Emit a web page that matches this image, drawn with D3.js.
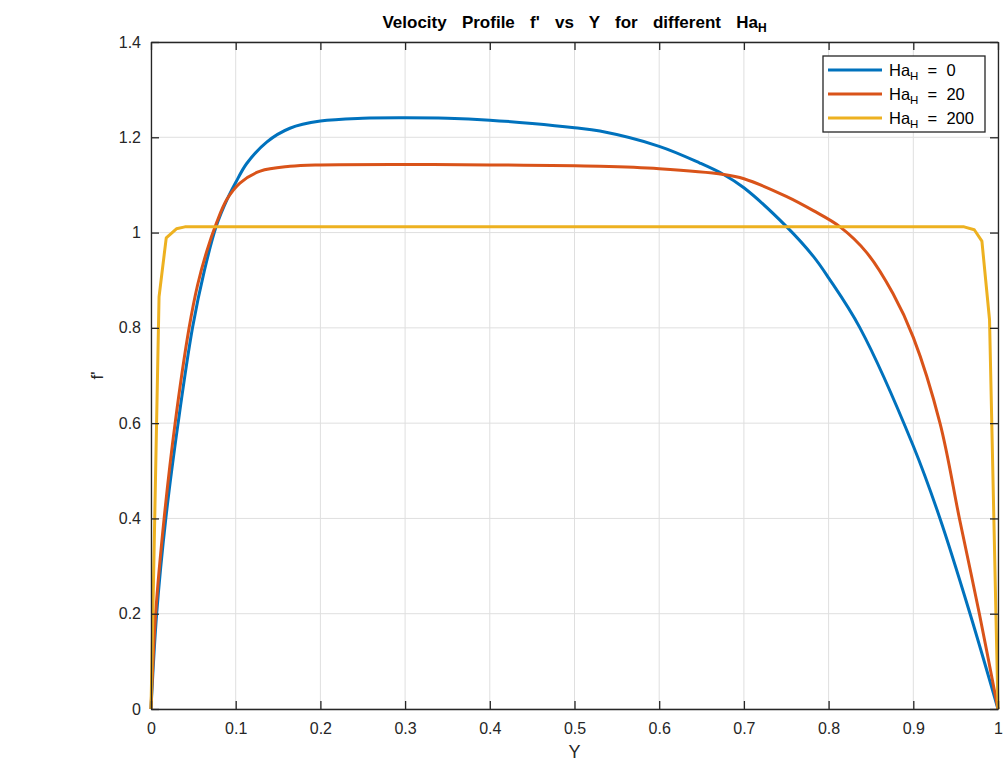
<!DOCTYPE html>
<html>
<head>
<meta charset="utf-8">
<script src="https://cdn.jsdelivr.net/npm/d3@7"></script>
<style>
  body { margin: 0; background: #fff; }
  text { font-family: "Liberation Sans", Arial, Helvetica, sans-serif; }
</style>
</head>
<body>
<div id="chart"></div>
<script>
// values
var ha0X = [0, 0.0067, 0.0175, 0.032, 0.049, 0.063, 0.077, 0.09, 0.1, 0.113, 0.1366, 0.164, 0.2, 0.25, 0.3, 0.35, 0.4, 0.45, 0.5, 0.53, 0.6, 0.648, 0.676, 0.7, 0.75, 0.782, 0.8, 0.837, 0.9, 0.9315, 0.967, 1];
var ha0Y = [0, 0.2, 0.4, 0.6, 0.8, 0.92, 1.013, 1.07, 1.105, 1.145, 1.19, 1.219, 1.234, 1.24, 1.241, 1.24, 1.236, 1.229, 1.22, 1.213, 1.181, 1.146, 1.122, 1.094, 1.013, 0.95, 0.905, 0.8, 0.552, 0.4, 0.2, 0];

var ha20X = [0, 0.0055, 0.0155, 0.0285, 0.045, 0.055, 0.0657, 0.0775, 0.0893, 0.105, 0.129, 0.164, 0.2, 0.3, 0.4, 0.53, 0.6, 0.676, 0.7, 0.75, 0.782, 0.8135, 0.845, 0.876, 0.9, 0.9315, 0.955, 0.978, 1];
var ha20Y = [0, 0.2, 0.4, 0.6, 0.8, 0.89, 0.96, 1.021, 1.069, 1.104, 1.129, 1.139, 1.142, 1.143, 1.142, 1.139, 1.134, 1.122, 1.113, 1.076, 1.046, 1.012, 0.958, 0.872, 0.78, 0.6, 0.395, 0.2, 0];

var ha200X = [0, 0.0095, 0.018, 0.03, 0.04, 0.5, 0.96, 0.972, 0.981, 0.99, 1];
var ha200Y = [0, 0.865, 0.989, 1.008, 1.012, 1.012, 1.012, 1.006, 0.982, 0.817, 0];

var seriesNames = ["0", "20", "200"];
var seriesColors = ["#0072BD", "#D95319", "#EDB120"];

var xTicks = [0, 0.1, 0.2, 0.3, 0.4, 0.5, 0.6, 0.7, 0.8, 0.9, 1];
var yTicks = [0, 0.2, 0.4, 0.6, 0.8, 1, 1.2, 1.4];

var width = 1004, height = 782;
var margin = { left: 151, right: 6, top: 42, bottom: 73 };
var iw = width - margin.left - margin.right;
var ih = height - margin.top - margin.bottom;
var axisColor = "#262626";
var tickLen = 8;
var fmt = d3.format("~g");

var svg = d3.select("#chart").append("svg")
  .attr("width", width)
  .attr("height", height);

var g = svg.append("g")
  .attr("transform", "translate(" + margin.left + "," + margin.top + ")");

var x = d3.scaleLinear().domain([0, 1]).range([0, iw]);
var y = d3.scaleLinear().domain([0, 1.4]).range([ih, 0]);

// grid
g.append("g").selectAll("line").data(xTicks).enter().append("line")
  .attr("x1", d => x(d)).attr("x2", d => x(d))
  .attr("y1", 0).attr("y2", ih)
  .attr("stroke", "#dfdfdf").attr("stroke-width", 1);
g.append("g").selectAll("line").data(yTicks).enter().append("line")
  .attr("x1", 0).attr("x2", iw)
  .attr("y1", d => y(d)).attr("y2", d => y(d))
  .attr("stroke", "#dfdfdf").attr("stroke-width", 1);

// lines
var seriesData = [
  d3.zip(ha0X, ha0Y),
  d3.zip(ha20X, ha20Y),
  d3.zip(ha200X, ha200Y)
];
var smooth = d3.line().x(d => x(d[0])).y(d => y(d[1])).curve(d3.curveCatmullRom.alpha(0.5));
var straight = d3.line().x(d => x(d[0])).y(d => y(d[1]));

var plot = g.append("g");
seriesData.forEach(function (s, i) {
  plot.append("path")
    .datum(s)
    .attr("fill", "none")
    .attr("stroke", seriesColors[i])
    .attr("stroke-width", 3)
    .attr("stroke-linejoin", "round")
    .attr("d", i == 2 ? straight : smooth);
});

// axes (box with inward ticks on every side)
var axBottom = g.append("g").attr("transform", "translate(0," + ih + ")")
  .call(d3.axisBottom(x).tickValues(xTicks).tickFormat(fmt).tickSizeInner(-tickLen).tickSizeOuter(0).tickPadding(14));
var axLeft = g.append("g")
  .call(d3.axisLeft(y).tickValues(yTicks).tickFormat(fmt).tickSizeInner(-tickLen).tickSizeOuter(0).tickPadding(10));
var axTop = g.append("g")
  .call(d3.axisTop(x).tickValues(xTicks).tickFormat("").tickSizeInner(-tickLen).tickSizeOuter(0));
var axRight = g.append("g").attr("transform", "translate(" + iw + ",0)")
  .call(d3.axisRight(y).tickValues(yTicks).tickFormat("").tickSizeInner(-tickLen).tickSizeOuter(0));

[axBottom, axLeft, axTop, axRight].forEach(function (a) {
  a.select(".domain").attr("stroke", axisColor).attr("stroke-width", 1.3);
  a.selectAll(".tick line").attr("stroke", axisColor).attr("stroke-width", 1.3);
  a.selectAll(".tick text").attr("fill", axisColor).style("font-size", "16px")
    .style("font-family", "'Liberation Sans', Arial, sans-serif");
});

// axis labels
svg.append("text")
  .attr("x", margin.left + iw / 2).attr("y", 758)
  .attr("text-anchor", "middle").attr("fill", axisColor)
  .style("font-size", "18px").text("Y");

svg.append("text")
  .attr("transform", "translate(103," + (margin.top + ih / 2) + ") rotate(-90)")
  .attr("text-anchor", "middle").attr("fill", axisColor)
  .style("font-size", "17px").text("f'");

// title
var title = svg.append("text")
  .attr("x", margin.left + iw / 2).attr("y", 28)
  .attr("text-anchor", "middle").attr("fill", "#000")
  .style("font-size", "17px").style("font-weight", "bold")
  .style("word-spacing", "10.5px");
title.append("tspan").text("Velocity Profile f' vs Y for different Ha");
title.append("tspan").attr("dy", 4).style("font-size", "12px").text("H");

// legend
var legend = svg.append("g").attr("transform", "translate(823,56)");
legend.append("rect")
  .attr("width", 162).attr("height", 76)
  .attr("fill", "#fff").attr("stroke", axisColor).attr("stroke-width", 1.3);
seriesNames.forEach(function (name, i) {
  var ly = 14 + i * 24;
  legend.append("line")
    .attr("x1", 5).attr("x2", 59).attr("y1", ly).attr("y2", ly)
    .attr("stroke", seriesColors[i]).attr("stroke-width", 3);
  var t = legend.append("text")
    .attr("x", 66).attr("y", ly + 6)
    .attr("fill", "#000").style("font-size", "16.5px");
  t.append("tspan").text("Ha");
  t.append("tspan").attr("dy", 4).style("font-size", "11.5px").text("H");
  t.append("tspan").attr("dy", -4).attr("xml:space", "preserve").text("  =  " + name);
});
</script>
</body>
</html>
